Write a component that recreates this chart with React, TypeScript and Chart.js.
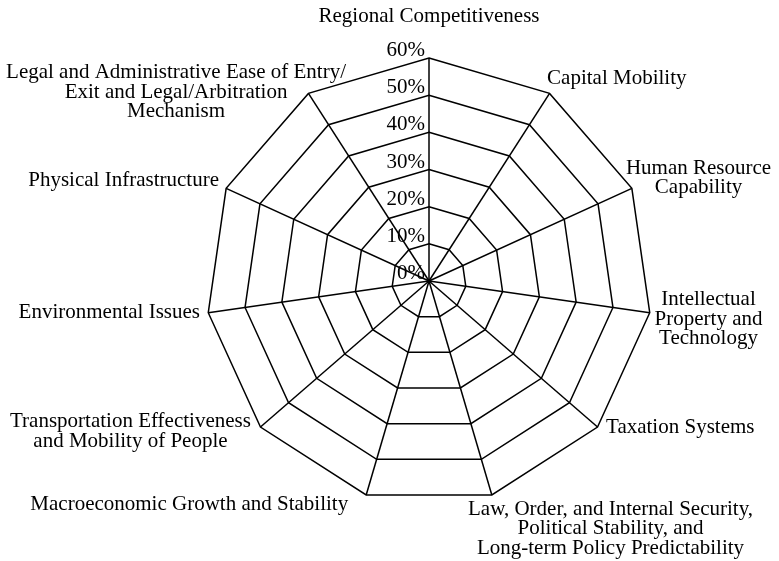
import React, { useEffect, useRef } from "react";
import { Chart, registerables } from "chart.js";

Chart.register(...registerables);

// ---- data ----
const CATEGORIES: (string | string[])[] = [
  "Regional Competitiveness",
  "Capital Mobility",
  ["Human Resource", "Capability"],
  ["Intellectual", "Property and", "Technology"],
  "Taxation Systems",
  ["Law, Order, and Internal Security,", "Political Stability, and", "Long-term Policy Predictability"],
  "Macroeconomic Growth and Stability",
  ["Transportation Effectiveness", "and Mobility of People"],
  "Environmental Issues",
  "Physical Infrastructure",
  ["Legal and Administrative Ease of Entry/", "Exit and Legal/Arbitration", "Mechanism"],
];
const SERIES_VALUES = [0, 0, 0, 0, 0, 0, 0, 0, 0, 0, 0];
const TICK_MIN = 0;
const TICK_MAX = 60;
const TICK_STEP = 10;

// ---- label styling (offsets from each spoke's outer vertex) ----
const LABEL_LAYOUT: { align: CanvasTextAlign; dx: number; dy: number }[] = [
  { align: "center", dx: 0, dy: -36 },
  { align: "left", dx: -2.5, dy: -9.4 },
  { align: "center", dx: 66.7, dy: -14.4 },
  { align: "center", dx: 58.8, dy: -7.7 },
  { align: "left", dx: 8.5, dy: 6 },
  { align: "center", dx: 118.7, dy: 20 },
  { align: "right", dx: -18, dy: 15 },
  { align: "center", dx: -130, dy: 0 },
  { align: "right", dx: -8.3, dy: 5.3 },
  { align: "right", dx: -7.2, dy: -2.4 },
  { align: "center", dx: -132.4, dy: -15.4 },
];
const FONT = "21px 'Liberation Serif', 'DejaVu Serif', serif";
const LINE_HEIGHT = 19.5;

const labelPlugin = {
  id: "customLabels",
  afterDraw(chart: any) {
    const scale = chart.scales.r;
    const ctx: CanvasRenderingContext2D = chart.ctx;
    ctx.save();
    ctx.font = FONT;
    ctx.fillStyle = "#000";
    ctx.textBaseline = "alphabetic";
    // tick labels
    ctx.textAlign = "right";
    scale.ticks.forEach((t: any) => {
      const d = scale.getDistanceFromCenterForValue(t.value);
      const label = t.label ?? `${t.value}%`;
      ctx.fillText(String(label), scale.xCenter - 4, scale.yCenter - d - 2);
    });
    // point labels
    const labels = chart.data.labels as (string | string[])[];
    labels.forEach((lab, i) => {
      const p = scale.getPointPosition(i, scale.drawingArea);
      const lay = LABEL_LAYOUT[i];
      const lines = Array.isArray(lab) ? lab : [lab];
      ctx.textAlign = lay.align;
      lines.forEach((ln, j) => {
        ctx.fillText(ln, p.x + lay.dx, p.y + lay.dy + j * LINE_HEIGHT);
      });
    });
    ctx.restore();
  },
};

export default function App() {
  const ref = useRef<HTMLCanvasElement | null>(null);
  useEffect(() => {
    if (!ref.current) return;
    const chart = new Chart(ref.current, {
      type: "radar",
      data: {
        labels: CATEGORIES,
        datasets: [
          {
            label: "Score",
            data: SERIES_VALUES,
            borderColor: "#000",
            backgroundColor: "rgba(0,0,0,0)",
            borderWidth: 1,
            pointRadius: 0,
          },
        ],
      },
      options: {
        responsive: false,
        animation: false,
        devicePixelRatio: 1,
        layout: { padding: { left: 206, right: 127, top: 58, bottom: 57 } },
        plugins: { legend: { display: false }, tooltip: { enabled: false } },
        scales: {
          r: {
            min: TICK_MIN,
            max: TICK_MAX,
            ticks: {
              stepSize: TICK_STEP,
              display: false,
              callback: (v: any) => `${v}%`,
            },
            pointLabels: { display: false },
            grid: { color: "#000", lineWidth: 1.5, circular: false },
            angleLines: { display: true, color: "#000", lineWidth: 1.5 },
          },
        },
      },
      plugins: [labelPlugin],
    });
    return () => chart.destroy();
  }, []);
  return (
    <div style={{ position: "absolute", left: 0, top: 0, width: 779, height: 561, background: "#fff" }}>
      <canvas ref={ref} width={779} height={561} style={{ display: "block" }} />
    </div>
  );
}
